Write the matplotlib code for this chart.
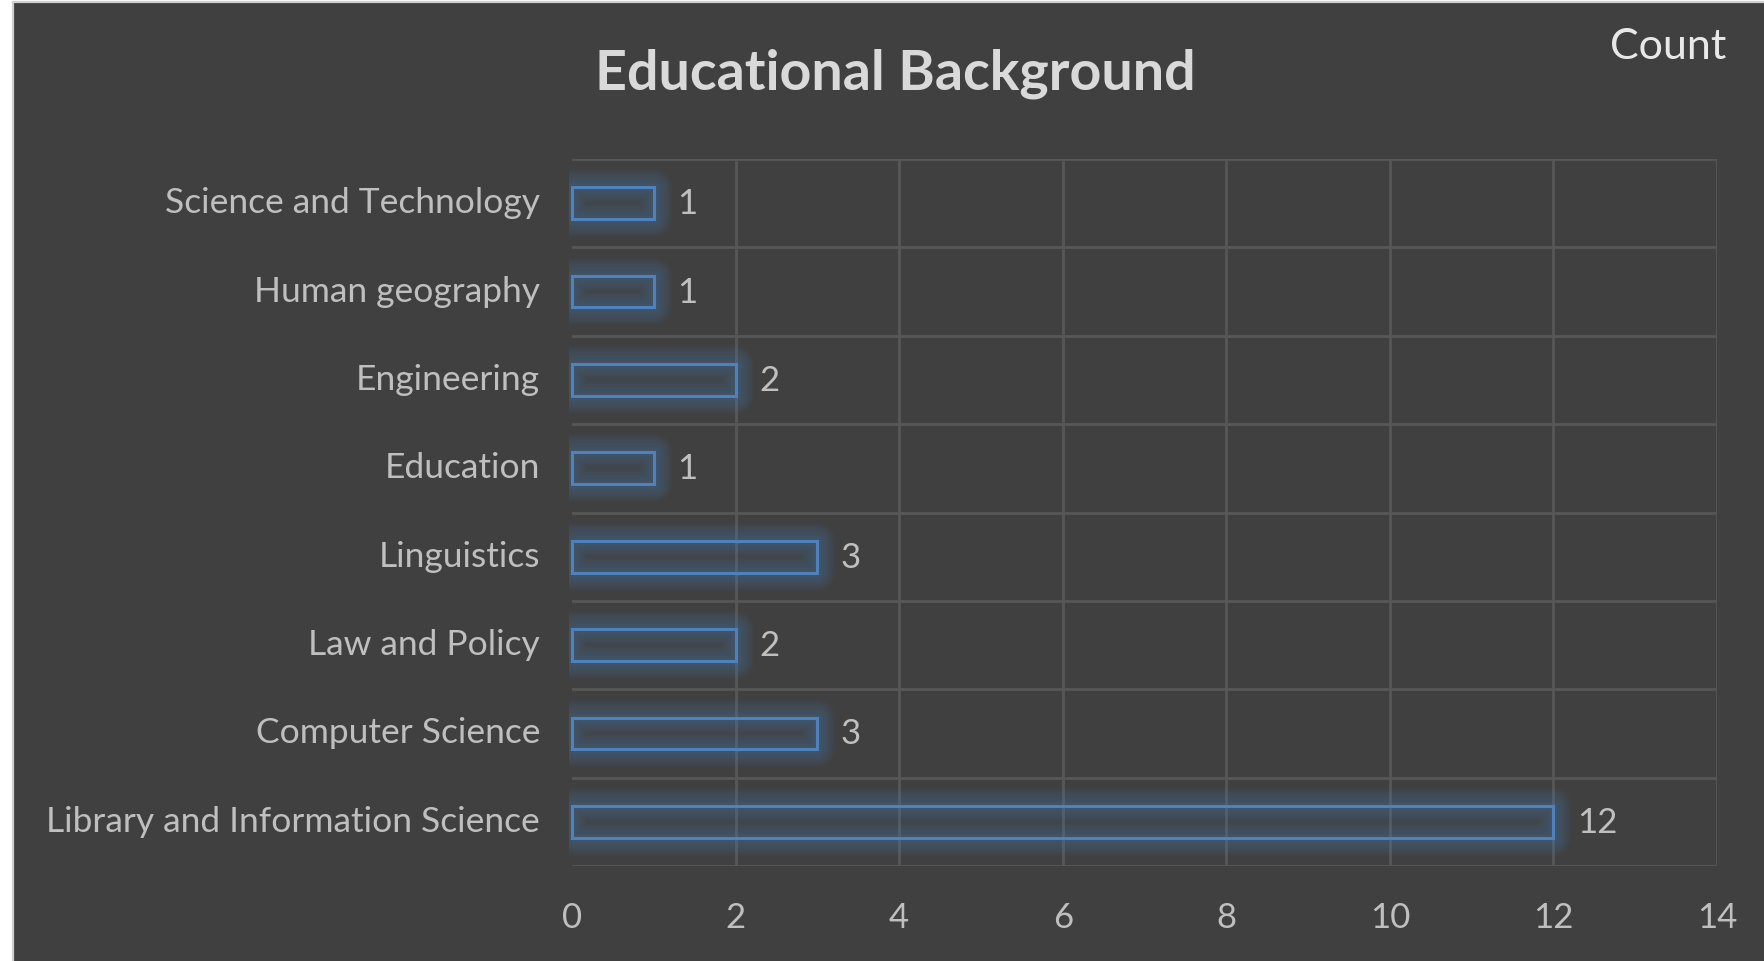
import numpy as np
import matplotlib
matplotlib.use("Agg")
import matplotlib.pyplot as plt
from matplotlib.patches import Rectangle
import matplotlib.patheffects as pe
import matplotlib.transforms as mtransforms

# ---- data (bottom to top, as drawn) ----
categories = [
    "Library and Information Science",
    "Computer Science",
    "Law and Policy",
    "Linguistics",
    "Education",
    "Engineering",
    "Human geography",
    "Science and Technology",
]
counts = [12, 3, 2, 3, 1, 2, 1, 1]
x_ticks = [0, 2, 4, 6, 8, 10, 12, 14]
title = "Educational Background"
legend_label = "Count"

BG = "#404040"
GRID = "#575757"
BLUE = "#4f81bd"
TXT = "#bfbfbf"
FONT = "Lato"

W, H = 1764, 962
fig = plt.figure(figsize=(W / 100, H / 100), dpi=100, facecolor="white")

# chart area with light border on left/top (screenshot edge)
fig.patches.append(Rectangle((12.5 / W, -0.05), 1.2, 1 - 2.5 / H + 0.05,
                             transform=fig.transFigure, facecolor=BG,
                             edgecolor="#d0d0d0", linewidth=1.6, zorder=-10))

ax = fig.add_axes([572 / W, 1 - 867 / H, (1717 - 572) / W, (867 - 160) / H])
ax.set_zorder(5)
ax.set_facecolor("none")
for s in ax.spines.values():
    s.set_visible(False)

n = len(categories)
y = np.arange(n)
bars = ax.barh(y, counts, height=0.36, facecolor="none", edgecolor=BLUE,
               linewidth=2.2, zorder=3)
clip = Rectangle((-0.003, 0), 1.006, 1, transform=ax.transAxes)
glow = [pe.Stroke(linewidth=w, foreground=BLUE, alpha=0.05, joinstyle="round")
        for w in (26, 23, 20, 17, 14, 11, 8, 5)]
for b in bars:
    b.set_path_effects(glow + [pe.Normal()])
    b.set_clip_path(clip)

ax.set_xlim(0, 14)
ax.set_ylim(-0.5, n - 0.5)
ax.set_xticks(x_ticks)
ax.set_xticklabels([str(t) for t in x_ticks])
ax.set_yticks(y)
ax.set_yticklabels(categories)
ax.set_yticks(np.arange(-0.5, n, 1.0), minor=True)
ax.tick_params(axis="both", which="both", length=0)
ax.tick_params(axis="x", pad=25, labelsize=25, labelcolor=TXT)
ax.tick_params(axis="y", pad=23, labelsize=25.5, labelcolor=TXT)
for lab in ax.get_xticklabels() + ax.get_yticklabels():
    lab.set_fontfamily(FONT)
up = mtransforms.ScaledTranslation(0, 4 / 100, fig.dpi_scale_trans)
for t in ax.yaxis.get_major_ticks():
    t.label1.set_transform(t.label1.get_transform() + up)

ax.grid(True, axis="x", which="major", color=GRID, linewidth=2, zorder=0)
ax.grid(True, axis="y", which="minor", color=GRID, linewidth=2, zorder=0)
ax.grid(False, axis="y", which="major")
ax.set_axisbelow(True)
# no line at the value-axis origin
ax.xaxis.get_gridlines()[0].set_visible(False)

for yi, v in zip(y, counts):
    ax.annotate(str(v), xy=(v, yi), xytext=(17, 0), textcoords="offset points",
                ha="left", va="center", fontsize=25, color=TXT,
                fontfamily=FONT)

fig.text(895 / W, 1 - 74 / H, title, ha="center", va="center",
         fontsize=40, fontweight="bold", color="#d9d9d9", fontfamily=FONT)
fig.text(1726 / W, 1 - 47 / H, legend_label, ha="right", va="center",
         fontsize=31, color="#e8e8e8", fontfamily=FONT)

fig.savefig("out.png", dpi=100, facecolor="white")
